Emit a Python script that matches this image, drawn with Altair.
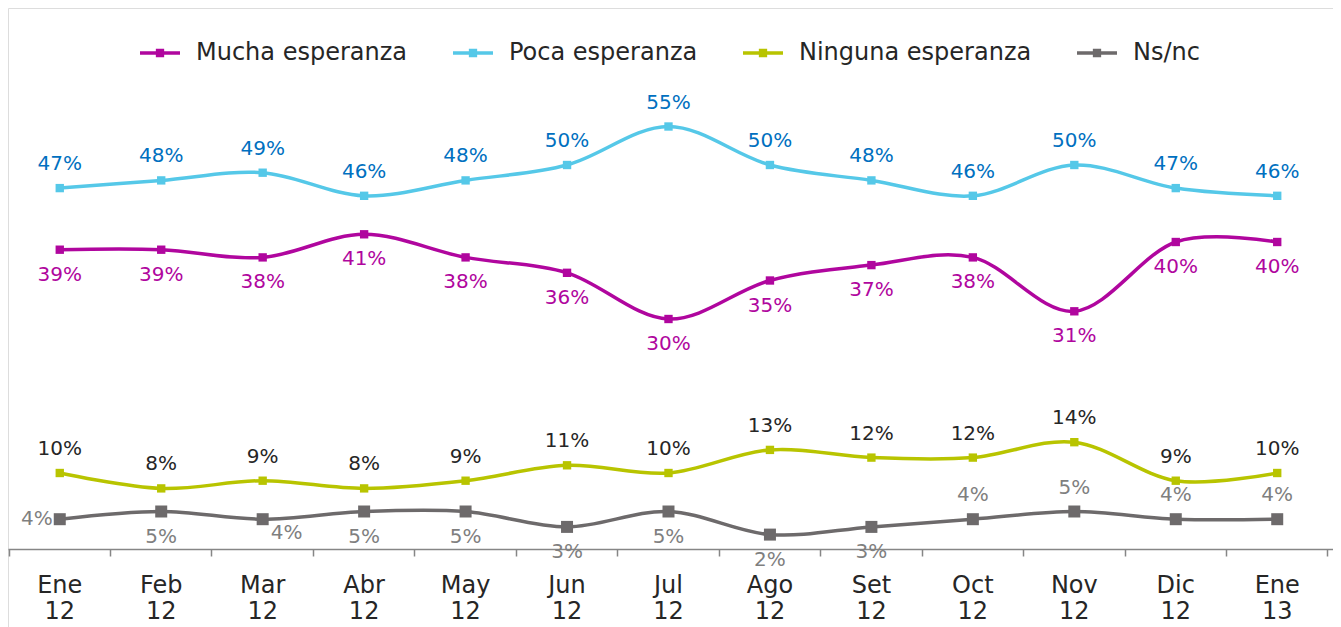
import altair as alt
import pandas as pd

months = ["Ene 12", "Feb 12", "Mar 12", "Abr 12", "May 12", "Jun 12", "Jul 12",
          "Ago 12", "Set 12", "Oct 12", "Nov 12", "Dic 12", "Ene 13"]
series_names = ["Mucha esperanza", "Poca esperanza", "Ninguna esperanza", "Ns/nc"]
mucha = [39, 39, 38, 41, 38, 36, 30, 35, 37, 38, 31, 40, 40]
poca = [47, 48, 49, 46, 48, 50, 55, 50, 48, 46, 50, 47, 46]
ninguna = [10, 8, 9, 8, 9, 11, 10, 13, 12, 12, 14, 9, 10]
nsnc = [4, 5, 4, 5, 5, 3, 5, 2, 3, 4, 5, 4, 4]
ns_label_pos = ["left", "below", "below-right", "below", "below", "below", "below",
                "below", "below", "above", "above", "above", "above"]
series_label_pos = {"Mucha esperanza": "below", "Poca esperanza": "above",
                    "Ninguna esperanza": "above"}

line_colors = ["#B0069E", "#55C8E8", "#B8C400", "#6D6A6B"]
label_colors = ["#B0069E", "#0070C0", "#262626", "#7F7F7F"]

rows = []
for name, vals in zip(series_names, [mucha, poca, ninguna, nsnc]):
    for i, (m, v) in enumerate(zip(months, vals)):
        pos = ns_label_pos[i] if name == "Ns/nc" else series_label_pos[name]
        rows.append({"mes": m, "serie": name, "valor": v, "etiqueta": f"{v}%", "pos": pos})
df = pd.DataFrame(rows)

FONT = "DejaVu Sans"
W = 1325
H = 632

x_enc = alt.X(
    "mes:N", sort=months,
    scale=alt.Scale(type="band", paddingInner=0, paddingOuter=0.03, align=0.17),
    axis=alt.Axis(
        title=None, labelAngle=0, labelExpr="split(datum.label, ' ')",
        labelFont=FONT, labelFontSize=24, labelColor="#262626", labelLineHeight=26,
        labelPadding=17, tickSize=7, tickColor="#868686", tickWidth=1.5,
        domainColor="#868686", domainWidth=1.5, bandPosition=1, tickExtra=True,
        offset=541 - H, grid=False,
    ),
)
y_enc = alt.Y("valor:Q", scale=alt.Scale(domain=[-(H - 542) / 7.7, 542 / 7.7], nice=False, zero=False), axis=None)

legend_path = "M-1,0H1M-0.12,-0.12H0.12V0.12H-0.12Z"
color_enc = alt.Color(
    "serie:N",
    scale=alt.Scale(domain=series_names, range=line_colors),
    legend=alt.Legend(
        title=None, orient="none", legendX=130, legendY=23, direction="horizontal",
        columns=4, symbolType=legend_path, symbolSize=1600, symbolStrokeWidth=3.5,
        labelFont=FONT, labelFontSize=24, labelColor="#262626", labelOffset=14,
        columnPadding=38, symbolOpacity=1, labelLimit=400,
    ),
)

base = alt.Chart(df)

lines = base.mark_line(interpolate="cardinal", strokeWidth=3.5).encode(
    x=x_enc, y=y_enc, color=color_enc
)
points = base.mark_point(shape="square", filled=True, opacity=1).encode(
    x=x_enc, y=y_enc, color=color_enc,
    size=alt.condition(alt.datum.serie == "Ns/nc", alt.value(144), alt.value(70)),
)

fill_enc = alt.Fill("serie:N", scale=alt.Scale(domain=series_names, range=label_colors), legend=None)

def label_layer(pos, **kw):
    return base.transform_filter(alt.datum.pos == pos).mark_text(
        font=FONT, fontSize=20, baseline="middle", **kw
    ).encode(x=x_enc, y=y_enc, text="etiqueta:N", fill=fill_enc)

labels = [
    label_layer("above", dy=-24),
    label_layer("below", dy=25),
    label_layer("left", align="right", dx=-7),
    label_layer("below-right", dx=24, dy=14),
]

chart = alt.layer(lines, points, *labels).properties(
    width=W, height=H, padding=0, autosize=alt.AutoSizeParams(type="none")
).configure_view(stroke="#8a8a8a", strokeWidth=3).configure(background="white")

chart.save("out.html", embed_options={"renderer": "svg", "actions": False})
